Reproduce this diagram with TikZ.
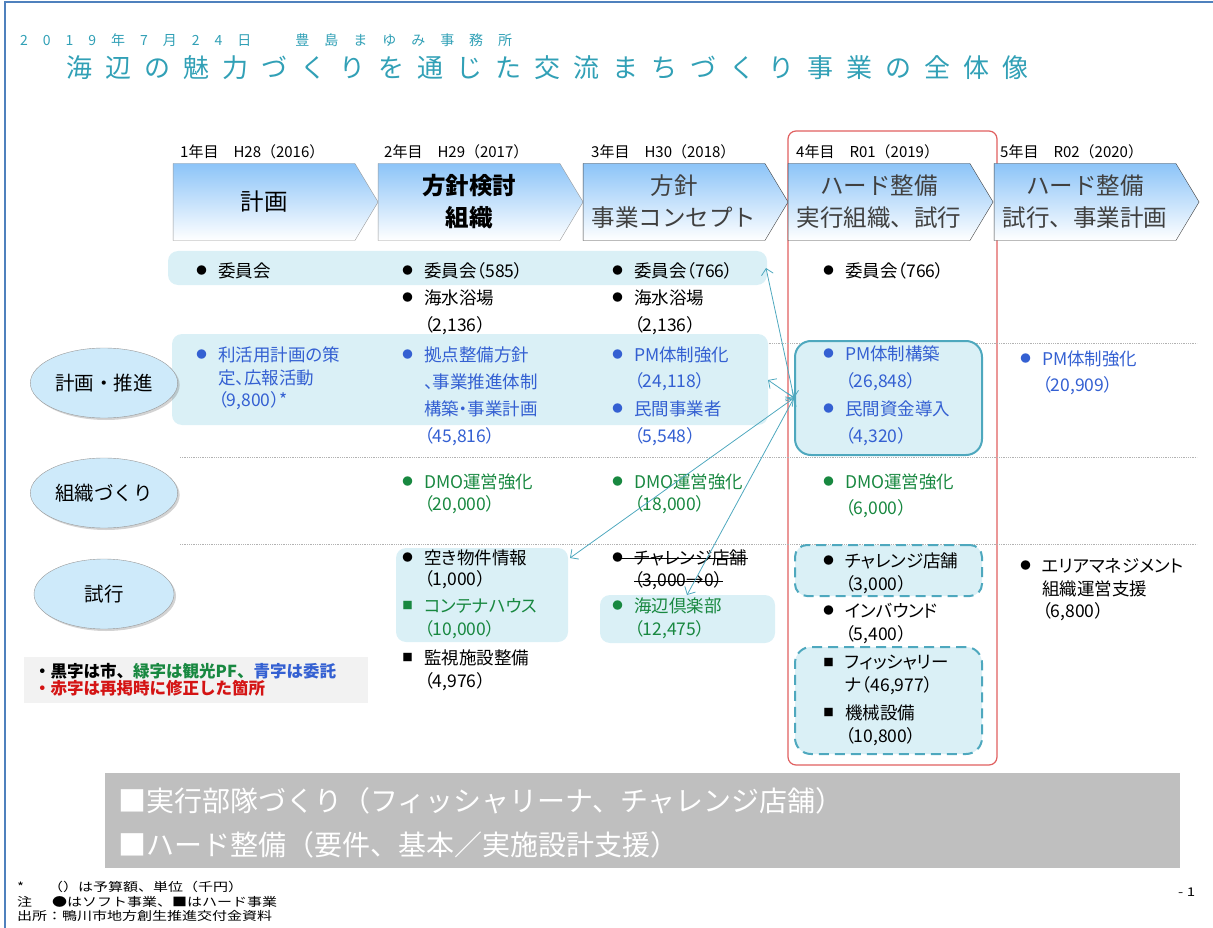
\documentclass[tikz,border=0pt]{standalone}
\usepackage{fontspec}
\setmainfont[RawFeature=+palt]{Noto Sans CJK JP}
\newfontfamily\jplarge{Noto Sans CJK JP}
\newfontfamily\jpnote[FakeStretch=1.25]{Noto Sans CJK JP}
\newfontfamily\jptitre[LetterSpace=50]{Noto Sans CJK JP}
\newfontfamily\jpsoustitre[LetterSpace=107]{Noto Sans CJK JP}
\usetikzlibrary{shadows, arrows.meta, shapes, shapes.symbols, shapes.geometric, positioning, calc}

\definecolor{titreteal}{RGB}{49,160,182}
\definecolor{cyanpale}{RGB}{218,240,246}
\definecolor{cadreteal}{RGB}{78,168,190}
\definecolor{bleutxt}{RGB}{52,96,210}
\definecolor{verttxt}{RGB}{24,136,64}
\definecolor{rougecadre}{RGB}{224,96,96}
\definecolor{rougetxt}{RGB}{212,20,20}
\definecolor{chevbleu}{RGB}{140,196,248}
\definecolor{ovalebleu}{RGB}{206,234,250}
\definecolor{grisbande}{RGB}{191,191,191}
\definecolor{grisleg}{RGB}{242,242,242}
\definecolor{gristxt}{RGB}{64,64,64}
\definecolor{bordbleu}{RGB}{79,129,189}

\begin{document}
\begin{tikzpicture}[x=1pt,y=-1pt,
  txt/.style={anchor=west,inner sep=0pt,font=\fontsize{17.5}{17.5}\selectfont},
  puce/.style={inner sep=0pt,font=\fontsize{10.5}{10.5}\selectfont},
  annee/.style={anchor=west,inner sep=0pt,font=\jplarge\fontsize{15}{15}\selectfont},
  chevron/.style={signal,signal to=east,signal from=nowhere,draw=gray!80,top color=chevbleu,bottom color=white,minimum width=205pt,minimum height=77pt,signal pointer angle=118,inner sep=0pt,align=center,font=\jplarge\fontsize{23.5}{32}\selectfont},
  ovale/.style={ellipse,draw=gray!80,fill=ovalebleu,minimum width=140pt,minimum height=70pt,font=\jplarge\fontsize{19.5}{19.5}\selectfont,drop shadow={opacity=0.35,shadow xshift=2pt,shadow yshift=-2pt}},
  bande/.style={fill=cyanpale,rounded corners=10pt},
  cadre/.style={draw=cadreteal,fill=cyanpale,line width=2pt,rounded corners=16pt},
  cadrepointille/.style={cadre,dash pattern=on 10pt off 6pt},
  sep/.style={draw=gray!60,densely dotted,line width=0.8pt},
  fleche/.style={draw=cadreteal,line width=0.8pt,{Straight Barb[length=6pt]}-{Straight Barb[length=6pt]}},
  note/.style={anchor=west,inner sep=0pt,font=\jpnote\fontsize{12}{12}\selectfont},
  barre/.style={draw=black,line width=0.9pt}]
\useasboundingbox (0,0) rectangle (1213,928);
% Cadre et titre
\draw[bordbleu,line width=2pt] (5,940) -- (5,2) -- (1220,2);
\node[anchor=west,inner sep=0pt,titreteal,font=\jpsoustitre\fontsize{14}{14}\selectfont] (soustitre) at (20,40) {2019年7月24日　豊島まゆみ事務所};
\node[anchor=west,inner sep=0pt,titreteal,font=\jptitre\fontsize{26}{26}\selectfont] (titre) at (66,68) {海辺の魅力づくりを通じた交流まちづくり事業の全体像};
% Annee 4
\draw[rougecadre,line width=1.2pt,rounded corners=8pt] (788,131) rectangle (997,765);
% Lignes de separation
\draw[sep] (180,343) -- (1197,343);
\draw[sep] (180,457) -- (1197,457);
\draw[sep] (180,544) -- (1197,544);
% Bandes
\path[bande] (168,251) rectangle (767,285);
\path[bande] (172,334) rectangle (768,425);
\path[bande] (396,548) rectangle (568,642);
\path[bande] (600,595) rectangle (775,643);
% Chevrons des annees
\node[chevron] (an1) at (264,202) {計画};
\node[chevron,font=\jplarge\bfseries\fontsize{23.5}{32}\selectfont] (an2) at (469,202) {方針検討\\組織};
\node[chevron,gristxt] (an3) at (674,202) {方針\\事業コンセプト};
\node[chevron,gristxt] (an4) at (879,202) {ハード整備\\実行組織、試行};
\node[chevron,gristxt] (an5) at (1085,202) {ハード整備\\試行、事業計画};
\node[annee] (lab1) at (180,152) {1年目　H28（2016）};
\node[annee] (lab2) at (384,152) {2年目　H29（2017）};
\node[annee] (lab3) at (591,152) {3年目　H30（2018）};
\node[annee] (lab4) at (796,152) {4年目　R01（2019）};
\node[annee] (lab5) at (1000,152) {5年目　R02（2020）};
% Axes
\node[ovale] (axe1) at (104,383) {計画・推進};
\node[ovale] (axe2) at (104,493) {組織づくり};
\node[ovale] (axe3) at (104,594) {試行};
% Cadres de l'annee 4
\node[cadre,minimum width=187pt,minimum height=114pt] (cadrePM) at (888.5,398) {};
\node[cadrepointille,minimum width=187pt,minimum height=51pt,rounded corners=12pt] (cadreCH) at (888.5,570.5) {};
\node[cadrepointille,minimum width=187pt,minimum height=107pt] (cadreFI) at (888.5,700.5) {};
% Colonne 1
\node[txt] (c1_1) at (218,271) {委員会};
\node[puce,left=11pt of c1_1] (b1_1) {●};
\node[txt,bleutxt] (c1_2) at (218,355) {利活用計画の策};
\node[puce,bleutxt,left=11pt of c1_2] (b1_2) {●};
\node[txt,bleutxt] (c1_3) at (218,378) {定、広報活動};
\node[txt,bleutxt] (c1_4) at (218,401) {（9,800）*};
% Colonne 2
\node[txt] (c2_1) at (424,271) {委員会（585）};
\node[puce,left=11pt of c2_1] (b2_1) {●};
\node[txt] (c2_2) at (424,298) {海水浴場};
\node[puce,left=11pt of c2_2] (b2_2) {●};
\node[txt] (c2_3) at (424,326) {（2,136）};
\node[txt,bleutxt] (c2_4) at (424,355) {拠点整備方針};
\node[puce,bleutxt,left=11pt of c2_4] (b2_4) {●};
\node[txt,bleutxt] (c2_5) at (424,382) {、事業推進体制};
\node[txt,bleutxt] (c2_6) at (424,409) {構築・事業計画};
\node[txt,bleutxt] (c2_7) at (424,437) {（45,816）};
\node[txt,verttxt] (c2_8) at (424,482) {DMO運営強化};
\node[puce,verttxt,left=11pt of c2_8] (b2_8) {●};
\node[txt,verttxt] (c2_9) at (424,505) {（20,000）};
\node[txt] (c2_10) at (424,558) {空き物件情報};
\node[puce,left=11pt of c2_10] (b2_10) {●};
\node[txt] (c2_11) at (424,580) {（1,000）};
\node[txt,verttxt] (c2_12) at (424,606) {コンテナハウス};
\node[puce,verttxt,left=11pt of c2_12] (b2_12) {■};
\node[txt,verttxt] (c2_13) at (424,630) {（10,000）};
\node[txt] (c2_14) at (424,658) {監視施設整備};
\node[puce,left=11pt of c2_14] (b2_14) {■};
\node[txt] (c2_15) at (424,682) {（4,976）};
% Colonne 3
\node[txt] (c3_1) at (634,271) {委員会（766）};
\node[puce,left=11pt of c3_1] (b3_1) {●};
\node[txt] (c3_2) at (634,298) {海水浴場};
\node[puce,left=11pt of c3_2] (b3_2) {●};
\node[txt] (c3_3) at (634,326) {（2,136）};
\node[txt,bleutxt] (c3_4) at (634,355) {PM体制強化};
\node[puce,bleutxt,left=11pt of c3_4] (b3_4) {●};
\node[txt,bleutxt] (c3_5) at (634,382) {（24,118）};
\node[txt,bleutxt] (c3_6) at (634,409) {民間事業者};
\node[puce,bleutxt,left=11pt of c3_6] (b3_6) {●};
\node[txt,bleutxt] (c3_7) at (634,437) {（5,548）};
\node[txt,verttxt] (c3_8) at (634,482) {DMO運営強化};
\node[puce,verttxt,left=11pt of c3_8] (b3_8) {●};
\node[txt,verttxt] (c3_9) at (634,505) {（18,000）};
\node[txt] (c3_10) at (634,558) {チャレンジ店舗};
\node[puce,left=11pt of c3_10] (b3_10) {●};
\node[txt] (c3_11) at (634,581) {（3,000→0）};
\node[txt,verttxt] (c3_12) at (634,606) {海辺倶楽部};
\node[puce,verttxt,left=11pt of c3_12] (b3_12) {●};
\node[txt,verttxt] (c3_13) at (634,630) {（12,475）};
\draw[barre] (b3_10.center) -- (c3_10.east);
\draw[barre] (c3_11.west) -- (c3_11.east);
% Colonne 4
\node[txt] (c4_1) at (845,271) {委員会（766）};
\node[puce,left=11pt of c4_1] (b4_1) {●};
\node[txt,bleutxt] (c4_2) at (845,354) {PM体制構築};
\node[puce,bleutxt,left=11pt of c4_2] (b4_2) {●};
\node[txt,bleutxt] (c4_3) at (845,382) {（26,848）};
\node[txt,bleutxt] (c4_4) at (845,409) {民間資金導入};
\node[puce,bleutxt,left=11pt of c4_4] (b4_4) {●};
\node[txt,bleutxt] (c4_5) at (845,437) {（4,320）};
\node[txt,verttxt] (c4_6) at (845,482) {DMO運営強化};
\node[puce,verttxt,left=11pt of c4_6] (b4_6) {●};
\node[txt,verttxt] (c4_7) at (845,509) {（6,000）};
\node[txt] (c4_8) at (845,561) {チャレンジ店舗};
\node[puce,left=11pt of c4_8] (b4_8) {●};
\node[txt] (c4_9) at (845,585) {（3,000）};
\node[txt] (c4_10) at (845,611) {インバウンド};
\node[puce,left=11pt of c4_10] (b4_10) {●};
\node[txt] (c4_11) at (845,635) {（5,400）};
\node[txt] (c4_12) at (845,663) {フィッシャリー};
\node[puce,left=11pt of c4_12] (b4_12) {■};
\node[txt] (c4_13) at (845,686) {ナ（46,977）};
\node[txt] (c4_14) at (845,713) {機械設備};
\node[puce,left=11pt of c4_14] (b4_14) {■};
\node[txt] (c4_15) at (845,737) {（10,800）};
% Colonne 5
\node[txt,bleutxt] (c5_1) at (1042,359) {PM体制強化};
\node[puce,bleutxt,left=11pt of c5_1] (b5_1) {●};
\node[txt,bleutxt] (c5_2) at (1042,386) {（20,909）};
\node[txt] (c5_3) at (1042,566) {エリアマネジメント};
\node[puce,left=11pt of c5_3] (b5_3) {●};
\node[txt] (c5_4) at (1042,589) {組織運営支援};
\node[txt] (c5_5) at (1042,612) {（6,800）};
% Liens
\coordinate (f1) at (766,268);
\coordinate (f2) at (768,380);
\coordinate (f3) at (570,558);
\coordinate (f4) at (687,595);
\foreach \f in {f1,f2,f3,f4}
  \draw[fleche] (cadrePM.west) -- (\f);
% Legende
\fill[grisleg] (24,657) rectangle (368,703);
\node[anchor=west,inner sep=0pt,font=\jplarge\bfseries\fontsize{16.5}{16.5}\selectfont] (leg1) at (34,671) {・黒字は市、\textcolor{verttxt}{緑字は観光PF、}\textcolor{bleutxt}{青字は委託}};
\node[anchor=west,inner sep=0pt,rougetxt,font=\jplarge\bfseries\fontsize{16.5}{16.5}\selectfont] (leg2) at (34,688) {・赤字は再掲時に修正した箇所};
% Bande grise
\fill[grisbande] (105,773) rectangle (1180,868);
\node[anchor=west,inner sep=0pt,white,font=\jplarge\fontsize{28}{28}\selectfont] (bg1) at (118,801) {■実行部隊づくり（フィッシャリーナ、チャレンジ店舗）};
\node[anchor=west,inner sep=0pt,white,font=\jplarge\fontsize{28}{28}\selectfont] (bg2) at (118,845) {■ハード整備（要件、基本／実施設計支援）};
% Notes
\node[note] (n1) at (17,887) {*\hspace{24pt}（）は予算額、単位（千円）};
\node[note] (n2) at (17,902) {注\hspace{20pt}●はソフト事業、■はハード事業};
\node[note] (n3) at (17,916) {出所：鴨川市地方創生推進交付金資料};
\node[note] (page) at (1178,892) {- 1};
\end{tikzpicture}
\end{document}
